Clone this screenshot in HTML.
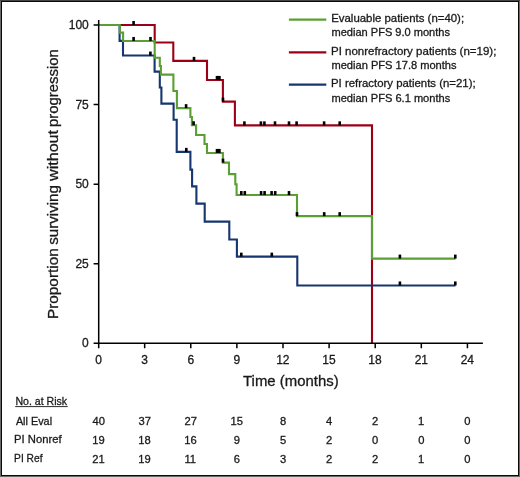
<!DOCTYPE html>
<html><head><meta charset="utf-8"><style>
html,body{margin:0;padding:0;background:#fff;}
svg{display:block;will-change:transform;}
text{font-family:"Liberation Sans",sans-serif;}
</style></head><body>
<svg width="520" height="477" viewBox="0 0 520 477">
<rect x="0" y="0" width="520" height="477" fill="#6a6a6a"/><rect x="0" y="0" width="520" height="1" fill="#454545"/><rect x="1" y="1" width="518" height="475" fill="#0a0a0a"/><rect x="2" y="2" width="516" height="473" fill="#fff"/>
<g fill="none" stroke-width="2.1" stroke-linejoin="miter" stroke-linecap="butt">
<path d="M98.55,25.0H154.7V42.45H173.3V60.85H207.0V79.95H222.9V101.65H234.9V125.35H372.0V343.25" stroke="#9c0016"/>
<path d="M98.55,25.0H119.6V40.85H123.0V55.55H154.6V71.65H159.8V87.55H161.4V103.65H173.6V119.75H176.7V151.85H190.4V169.65H192.1V186.35H196.4V203.65H204.7V221.65H229.3V239.45H236.9V256.65H297.3V285.45H455.5" stroke="#17356f"/>
<path d="M98.55,25.0H119.8V32.65H123.1V40.95H154.7V57.75H159.8V66.05H160.9V74.65H173.4V91.05H176.9V108.15H190.4V116.95H191.9V125.25H196.1V135.05H204.5V144.05H207.0V152.95H222.9V162.65H229.0V174.15H235.3V184.25H236.6V195.05H297.0V216.15H372.0V258.6H455.5" stroke="#5a9f33"/>
</g>
<g fill="#000"><rect x="132.30" y="21.00" width="2.6" height="4.0"/><rect x="192.70" y="56.85" width="2.6" height="4.0"/><rect x="215.70" y="75.95" width="2.6" height="4.0"/><rect x="216.90" y="75.95" width="2.6" height="4.0"/><rect x="218.10" y="75.95" width="2.6" height="4.0"/><rect x="221.70" y="97.65" width="2.6" height="4.0"/><rect x="243.10" y="121.35" width="2.6" height="4.0"/><rect x="259.60" y="121.35" width="2.6" height="4.0"/><rect x="263.10" y="121.35" width="2.6" height="4.0"/><rect x="273.70" y="121.35" width="2.6" height="4.0"/><rect x="287.70" y="121.35" width="2.6" height="4.0"/><rect x="295.30" y="121.35" width="2.6" height="4.0"/><rect x="322.80" y="121.35" width="2.6" height="4.0"/><rect x="338.40" y="121.35" width="2.6" height="4.0"/><rect x="149.10" y="51.55" width="2.6" height="4.0"/><rect x="185.00" y="147.85" width="2.6" height="4.0"/><rect x="240.00" y="252.65" width="2.6" height="4.0"/><rect x="270.50" y="252.65" width="2.6" height="4.0"/><rect x="398.60" y="281.45" width="2.6" height="4.0"/><rect x="454.00" y="281.45" width="2.6" height="4.0"/><rect x="132.30" y="36.95" width="2.6" height="4.0"/><rect x="149.20" y="36.95" width="2.6" height="4.0"/><rect x="184.80" y="104.15" width="2.6" height="4.0"/><rect x="192.30" y="121.25" width="2.6" height="4.0"/><rect x="215.70" y="148.95" width="2.6" height="4.0"/><rect x="216.90" y="148.95" width="2.6" height="4.0"/><rect x="218.10" y="148.95" width="2.6" height="4.0"/><rect x="221.70" y="158.65" width="2.6" height="4.0"/><rect x="240.00" y="191.05" width="2.6" height="4.0"/><rect x="243.50" y="191.05" width="2.6" height="4.0"/><rect x="259.80" y="191.05" width="2.6" height="4.0"/><rect x="263.30" y="191.05" width="2.6" height="4.0"/><rect x="270.30" y="191.05" width="2.6" height="4.0"/><rect x="273.90" y="191.05" width="2.6" height="4.0"/><rect x="287.70" y="191.05" width="2.6" height="4.0"/><rect x="295.70" y="212.15" width="2.6" height="4.0"/><rect x="322.90" y="212.15" width="2.6" height="4.0"/><rect x="338.40" y="212.15" width="2.6" height="4.0"/><rect x="398.60" y="254.60" width="2.6" height="4.0"/><rect x="454.00" y="254.60" width="2.6" height="4.0"/></g>
<path d="M98.7,20V348.3M93.6,343.25H482.9M93.6,25.05H98.55M93.6,104.60H98.55M93.6,184.15H98.55M93.6,263.70H98.55M144.66,343.25V348.3M190.77,343.25V348.3M236.88,343.25V348.3M282.99,343.25V348.3M329.10,343.25V348.3M375.21,343.25V348.3M421.32,343.25V348.3M467.43,343.25V348.3" stroke="#000" stroke-width="1.5" fill="none"/>
<g stroke-width="2.2" fill="none"><path d="M288.9,19.7H326.3" stroke="#5a9f33"/><path d="M288.9,52.3H326.3" stroke="#9c0016"/><path d="M288.9,84.6H326.3" stroke="#17356f"/></g>
<path d="M15.2,406.6H67.7" stroke="#2a2a2a" stroke-width="1"/>
<g fill="#1a1a1a" stroke="#1a1a1a" stroke-width="0.3"><text x="88.77" y="29.15" font-size="12.0" text-anchor="end">100</text><text x="88.80" y="108.70" font-size="12.0" text-anchor="end">75</text><text x="88.77" y="188.25" font-size="12.0" text-anchor="end">50</text><text x="88.80" y="267.80" font-size="12.0" text-anchor="end">25</text><text x="88.77" y="347.35" font-size="12.0" text-anchor="end">0</text><text x="95.21" y="364.30" font-size="12.0">0</text><text x="141.36" y="364.30" font-size="12.0">3</text><text x="187.39" y="364.30" font-size="12.0">6</text><text x="233.55" y="364.30" font-size="12.0">9</text><text x="276.16" y="364.30" font-size="12.0">12</text><text x="322.22" y="364.30" font-size="12.0">15</text><text x="368.34" y="364.30" font-size="12.0">18</text><text x="414.64" y="364.30" font-size="12.0">21</text><text x="460.63" y="364.30" font-size="12.0">24</text><text x="243.07" y="385.60" font-size="14.7" textLength="95.64" lengthAdjust="spacingAndGlyphs">Time (months)</text><g transform="translate(57.9,0) rotate(-90)"><text x="-319.13" y="0.00" font-size="15" textLength="70.95" lengthAdjust="spacingAndGlyphs">Proportion</text><text x="-244.82" y="0.00" font-size="15" textLength="59.71" lengthAdjust="spacingAndGlyphs">surviving</text><text x="-180.98" y="0.00" font-size="15" textLength="50.99" lengthAdjust="spacingAndGlyphs">without</text><text x="-126.97" y="0.00" font-size="15" textLength="77.88" lengthAdjust="spacingAndGlyphs">progression</text></g><text x="331.19" y="22.00" font-size="11.1" textLength="132.91" lengthAdjust="spacingAndGlyphs">Evaluable patients (n=40);</text><text x="331.46" y="36.40" font-size="11.1" textLength="118.54" lengthAdjust="spacingAndGlyphs">median PFS 9.0 months</text><text x="330.99" y="54.70" font-size="11.1" textLength="165.41" lengthAdjust="spacingAndGlyphs">PI nonrefractory patients (n=19);</text><text x="331.46" y="69.10" font-size="11.1" textLength="125.14" lengthAdjust="spacingAndGlyphs">median PFS 17.8 months</text><text x="330.99" y="87.40" font-size="11.1" textLength="144.61" lengthAdjust="spacingAndGlyphs">PI refractory patients (n=21);</text><text x="331.46" y="101.80" font-size="11.1" textLength="118.74" lengthAdjust="spacingAndGlyphs">median PFS 6.1 months</text><text x="15.43" y="404.70" font-size="11.2" textLength="51.65" lengthAdjust="spacingAndGlyphs">No. at Risk</text><text x="15.88" y="424.50" font-size="11.2" textLength="36.17" lengthAdjust="spacingAndGlyphs">All Eval</text><text x="14.08" y="443.40" font-size="11.2" textLength="47.50" lengthAdjust="spacingAndGlyphs">PI Nonref</text><text x="14.08" y="462.20" font-size="11.2" textLength="28.40" lengthAdjust="spacingAndGlyphs">PI Ref</text><text x="92.41" y="424.50" font-size="11.2">40</text><text x="138.50" y="424.50" font-size="11.2">37</text><text x="184.54" y="424.50" font-size="11.2">27</text><text x="230.46" y="424.50" font-size="11.2">15</text><text x="279.88" y="424.50" font-size="11.2">8</text><text x="326.02" y="424.50" font-size="11.2">4</text><text x="372.10" y="424.50" font-size="11.2">2</text><text x="418.05" y="424.50" font-size="11.2">1</text><text x="464.32" y="424.50" font-size="11.2">0</text><text x="92.16" y="443.70" font-size="11.2">19</text><text x="138.25" y="443.70" font-size="11.2">18</text><text x="184.36" y="443.70" font-size="11.2">16</text><text x="233.77" y="443.70" font-size="11.2">9</text><text x="279.89" y="443.70" font-size="11.2">5</text><text x="325.99" y="443.70" font-size="11.2">2</text><text x="372.10" y="443.70" font-size="11.2">0</text><text x="418.21" y="443.70" font-size="11.2">0</text><text x="464.32" y="443.70" font-size="11.2">0</text><text x="92.31" y="462.60" font-size="11.2">21</text><text x="138.27" y="462.60" font-size="11.2">19</text><text x="184.39" y="462.60" font-size="11.2">11</text><text x="233.73" y="462.60" font-size="11.2">6</text><text x="279.91" y="462.60" font-size="11.2">3</text><text x="325.99" y="462.60" font-size="11.2">2</text><text x="372.10" y="462.60" font-size="11.2">2</text><text x="418.05" y="462.60" font-size="11.2">1</text><text x="464.32" y="462.60" font-size="11.2">0</text></g>
</svg>
</body></html>
